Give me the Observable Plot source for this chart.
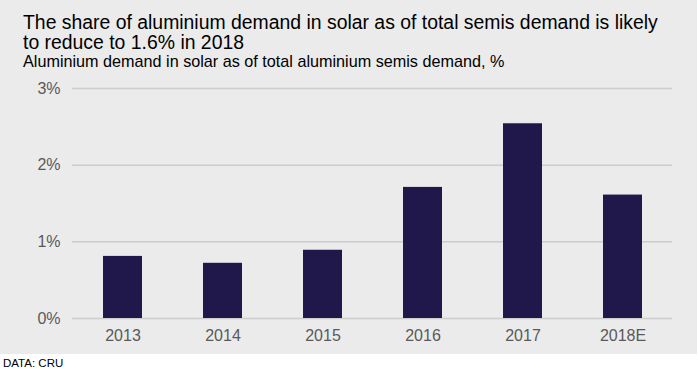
<!DOCTYPE html>
<html>
<head>
<meta charset="utf-8">
<script src="https://cdn.jsdelivr.net/npm/d3@7"></script>
<script src="https://cdn.jsdelivr.net/npm/@observablehq/plot@0.6"></script>
<style>
  body { margin: 0; background: #fff; }
  #wrap { position: relative; width: 698px; height: 369px; font-family: "Liberation Sans", Arial, sans-serif; }
  #panel { position: absolute; left: 0; top: 0; width: 697px; height: 354px; background: #ebebeb; }
  #title { position: absolute; left: 23px; top: 12px; font-size: 19.4px; line-height: 20px; color: #000; white-space: nowrap; }
  #subtitle { position: absolute; left: 23px; top: 52.5px; font-size: 16.2px; line-height: 16px; color: #000; white-space: nowrap; }
  #chart { position: absolute; left: 0; top: 75px; }
  #source { position: absolute; left: 3px; top: 357px; font-size: 11.5px; line-height: 12px; color: #000; }
</style>
</head>
<body>
<div id="wrap">
  <div id="panel"></div>
  <div id="title">The share of aluminium demand in solar as of total semis demand is likely<br>to reduce to 1.6% in 2018</div>
  <div id="subtitle">Aluminium demand in solar as of total aluminium semis demand, %</div>
  <div id="chart"></div>
  <div id="source">DATA: CRU</div>
</div>
<script>
const years = ["2013", "2014", "2015", "2016", "2017", "2018E"];
const shares = [0.81, 0.72, 0.89, 1.71, 2.54, 1.61];
const yTicks = [0, 1, 2, 3];

const data = years.map((y, i) => ({year: y, share: shares[i]}));

const chart = Plot.plot({
  width: 698,
  height: 279,
  marginLeft: 72,
  marginRight: 26,
  marginTop: 13,
  marginBottom: 36,
  style: {background: "transparent", fontFamily: "'Liberation Sans', Arial, sans-serif", fontSize: "16px", color: "#595959"},
  x: {domain: years, paddingInner: 0.61, paddingOuter: 0.305, label: null},
  y: {domain: [0, 3], label: null},
  marks: [
    Plot.gridY(yTicks, {stroke: "#cccccc", strokeOpacity: 1, strokeWidth: 1.5}),
    Plot.barY(data, {x: "year", y: "share", fill: "#20184a"}),
    Plot.axisY(yTicks, {tickSize: 0, tickPadding: 12, tickFormat: d => d + "%", label: null, fontSize: 16, fill: "#595959"}),
    Plot.axisX({tickSize: 0, tickPadding: 11, label: null, fontSize: 16, fill: "#595959"})
  ]
});
document.getElementById("chart").appendChild(chart);
</script>
</body>
</html>
